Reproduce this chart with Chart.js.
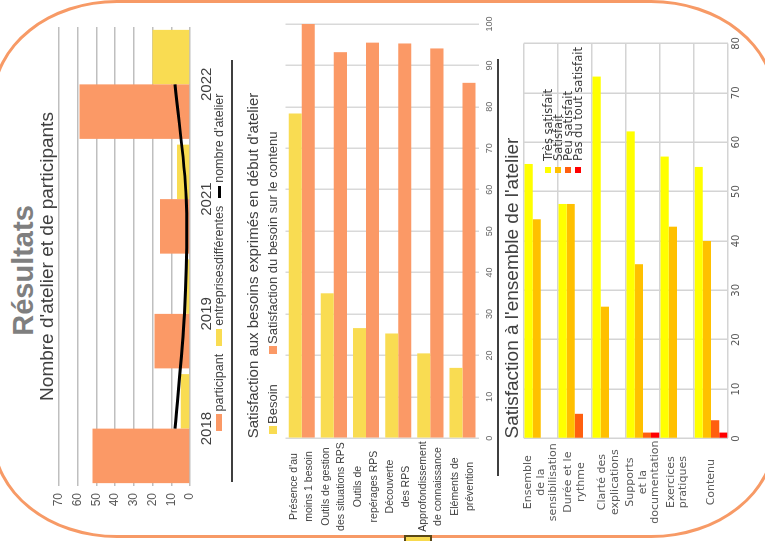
<!DOCTYPE html>
<html lang="fr">
<head>
<meta charset="utf-8">
<title>Résultats</title>
<script src="https://cdn.jsdelivr.net/npm/chart.js@4.4.1/dist/chart.umd.min.js"></script>
<style>
  html, body { margin: 0; padding: 0; background: #fff; }
  body { width: 765px; height: 541px; position: relative; overflow: hidden; font-family: 'Liberation Sans', Arial, sans-serif; }
  #frame { position: absolute; left: -8px; top: 0; width: 784px; height: 538px; box-sizing: border-box; border: 3px solid #F79A66; border-radius: 125px / 100px; }
  #tab { position: absolute; left: 404px; top: 535px; width: 28px; height: 14px; box-sizing: border-box; border: 2px solid #5A4816; background: #F8DA4E; }
  /* the slide is laid out upright, then turned a quarter to the left */
  #slide { position: absolute; left: 0; top: 0; width: 541px; height: 765px; transform-origin: 0 0; transform: translate(0, 541px) rotate(-90deg); }
  #slide canvas, #slide div, #slide span { position: absolute; }
  #bigTitle { left: 0; top: 6px; width: 541px; text-align: center; font: bold 29px/34px 'Liberation Sans', Arial, sans-serif; color: #7F7F7F; }
  .sep { height: 2px; background: #3F3F3F; }
  .leg span { white-space: nowrap; color: #404040; }
  #leg1 { left: 16px; top: 212px; width: 525px; height: 14px; display: flex; justify-content: center; align-items: center; gap: 8px; font: 12.5px/14px 'Liberation Sans', Arial, sans-serif; color: #404040; }
  #leg1 span { position: static; }
  #leg1 .item { display: flex; align-items: center; gap: 3px; white-space: nowrap; }
  #leg1 .key { display: inline-block; width: 17px; height: 6px; }
  #leg1 .key.line { width: 12px; height: 3px; }
</style>
</head>
<body>
<div id="frame"></div>
<div id="slide">
  <div id="bigTitle">Résultats</div>
  <canvas id="c1" width="541" height="206" style="left:0;top:30px"></canvas>
  <div id="leg1"></div>
  <div class="sep" style="left:59px;top:231px;width:422px"></div>
  <canvas id="c2" width="541" height="261" style="left:0;top:236px"></canvas>
  <div id="leg2" class="leg" style="left:0;top:0"></div>
  <div class="sep" style="left:65px;top:497px;width:417px"></div>
  <canvas id="c3" width="541" height="267" style="left:0;top:498px"></canvas>
  <div id="leg3" class="leg" style="left:0;top:0"></div>
</div>
<div id="tab"></div>

<script>
// chart 1 : ateliers et participants
const years = ['2018', '2019', '2021', '2022']
const participants = [52, 19, 16, 59]
const entreprises = [5, 2, 7, 20]
const ateliers = [8, 3, 2, 8]

// chart 2 : besoins
const besoinLabels = [
  ["Présence d'au", 'moins 1 besoin'],
  ['Outils de gestion', 'des situations RPS'],
  ['Outils de', 'repérages RPS'],
  ['Découverte', 'des RPS'],
  ['Approfondissement', 'de connaissance'],
  ['Eléments de', 'prévention']
]
const besoin = [78.4, 35, 26.6, 25.3, 20.5, 17]
const satisfactionBesoin = [100, 93.2, 95.5, 95.3, 94.1, 85.8]

// chart 3 : satisfaction
const atelierLabels = [
  ['Ensemble', 'de la', 'sensibilisation'],
  ['Durée et le', 'rythme'],
  ['Clarté des', 'explications'],
  ['Supports', 'et la', 'documentation'],
  ['Exercices', 'pratiques'],
  ['Contenu']
]
const tresSatisfait = [55.6, 47.5, 73.3, 62.2, 57.1, 55]
const satisfait = [44.4, 47.5, 26.7, 35.3, 42.9, 40]
const peuSatisfait = [0, 5, 0, 1.2, 0, 3.7]
const pasSatisfait = [0, 0, 0, 1.2, 0, 1.2]

const fontMain = "'Liberation Sans', Arial, sans-serif"
const fontWide = "'DejaVu Sans', Verdana, sans-serif"

Chart.defaults.font.family = fontMain
Chart.defaults.animation = false
Chart.defaults.plugins.tooltip.enabled = false

let orange = '#FB9966'
let yellow = '#F9DC52'

let chart1 = new Chart(document.getElementById('c1'), {
  type: 'bar',
  data: {
    labels: years,
    datasets: [{
      label: 'participant',
      data: participants,
      backgroundColor: orange,
      categoryPercentage: 0.95,
      barPercentage: 1
    },
    {
      label: 'entreprisesdifférentes',
      data: entreprises,
      backgroundColor: yellow,
      categoryPercentage: 0.95,
      barPercentage: 1
    },
    {
      type: 'line',
      label: "nombre d'atelier",
      data: ateliers,
      borderColor: '#000',
      backgroundColor: '#000',
      borderWidth: 3,
      pointRadius: 0,
      tension: 0.35,
      order: -1
    }]
  },
  options: {
    responsive: false,
    layout: { padding: { left: 0, right: 27, top: 0, bottom: 1 } },
    plugins: {
      legend: { display: false },
      title: {
        display: true,
        text: "Nombre d'atelier et de participants",
        fullSize: false,
        color: '#404040',
        font: { size: 19, weight: 'normal' },
        padding: { top: 6, bottom: 0 }
      }
    },
    scales: {
      x: {
        grid: { display: false, drawTicks: false },
        border: { display: false },
        ticks: { autoSkip: false, maxRotation: 0, color: '#404040', font: { size: 15 }, padding: 8 },
        afterFit: (s) => { s.height = 45 }
      },
      y: {
        min: 0,
        max: 70,
        ticks: { stepSize: 10, color: '#595959', font: { size: 12 }, padding: 7 },
        grid: { color: '#BFBFBF', lineWidth: 1.5, drawTicks: false },
        border: { display: false },
        afterFit: (s) => { s.width = 55 }
      }
    }
  }
})

let chart2 = new Chart(document.getElementById('c2'), {
  type: 'bar',
  data: {
    labels: besoinLabels,
    datasets: [{
      label: 'Besoin',
      data: besoin,
      backgroundColor: yellow,
      categoryPercentage: 0.81,
      barPercentage: 1
    },
    {
      label: 'Satisfaction du besoin sur le contenu',
      data: satisfactionBesoin,
      backgroundColor: orange,
      categoryPercentage: 0.81,
      barPercentage: 1
    }]
  },
  options: {
    responsive: false,
    indexAxis: 'y',
    layout: { padding: { left: 0, right: 24, top: 0, bottom: 0 } },
    plugins: {
      legend: { display: false },
      title: {
        display: true,
        text: "Satisfaction aux besoins exprimés en début d'atelier",
        fullSize: false,
        align: 'start',
        color: '#404040',
        font: { size: 15, weight: 'normal' },
        padding: { top: 9, bottom: 22.6 }
      }
    },
    scales: {
      x: {
        min: 0,
        max: 100,
        ticks: { stepSize: 10, color: '#666', font: { size: 9 }, padding: 6 },
        grid: { color: '#D9D9D9', lineWidth: 1.5, drawTicks: false },
        border: { display: false },
        afterFit: (s) => { s.height = 18.4 }
      },
      y: {
        grid: { display: false, drawTicks: false },
        border: { display: false },
        ticks: { autoSkip: false, color: '#404040', font: { size: 10.5, lineHeight: 1.45 }, crossAlign: 'center', padding: 3 },
        afterFit: (s) => { s.width = 102.7 }
      }
    }
  }
})

let chart3 = new Chart(document.getElementById('c3'), {
  type: 'bar',
  data: {
    labels: atelierLabels,
    datasets: [
      { label: 'Très satisfait', data: tresSatisfait, backgroundColor: '#FFFF00' },
      { label: 'Satisfait', data: satisfait, backgroundColor: '#FFC000' },
      { label: 'Peu satisfait', data: peuSatisfait, backgroundColor: '#FF5F0F' },
      { label: 'Pas du tout satisfait', data: pasSatisfait, backgroundColor: '#FF0000' }
    ]
  },
  options: {
    responsive: false,
    indexAxis: 'y',
    datasets: { bar: { categoryPercentage: 0.96, barPercentage: 1 } },
    layout: { padding: { left: 0, right: 43.5, top: 0, bottom: 0 } },
    plugins: {
      legend: { display: false },
      title: {
        display: true,
        text: "Satisfaction à l'ensemble de l'atelier",
        fullSize: false,
        align: 'start',
        color: '#404040',
        font: { size: 19, weight: 'normal' },
        padding: { top: 3, bottom: 0 }
      }
    },
    scales: {
      x: {
        min: 0,
        max: 80,
        ticks: { stepSize: 10, color: '#595959', font: { family: fontWide, size: 10 }, padding: 2.5 },
        grid: { color: '#D4D4D4', lineWidth: 1.5, drawTicks: false },
        border: { display: false },
        afterFit: (s) => { s.height = 37 }
      },
      y: {
        grid: { color: '#D4D4D4', lineWidth: 1.5, drawTicks: false },
        border: { display: false },
        ticks: { autoSkip: false, color: '#595959', font: { family: fontWide, size: 11, lineHeight: 1.14 }, crossAlign: 'center', padding: 2 },
        afterFit: (s) => { s.width = 102.5 }
      }
    }
  }
})

// legend of chart 1, centred under the plot like the original
let leg1 = document.getElementById('leg1')
chart1.data.datasets.forEach(ds => {
  let item = document.createElement('span')
  item.className = 'item'
  let key = document.createElement('span')
  key.className = ds.type === 'line' ? 'key line' : 'key'
  key.style.background = ds.type === 'line' ? ds.borderColor : ds.backgroundColor
  let tx = document.createElement('span')
  tx.textContent = ds.label
  item.appendChild(key)
  item.appendChild(tx)
  leg1.appendChild(item)
})

// html legends, placed where the original slide has them
function makeLegend(id, chart, items) {
  let box = document.getElementById(id)
  chart.data.datasets.forEach((ds, i) => {
    let it = items[i]
    let sq = document.createElement('span')
    sq.style.cssText = `left:${it.bx}px;top:${it.by}px;width:${it.s}px;height:${it.s}px;background:${ds.backgroundColor}`
    let tx = document.createElement('span')
    tx.textContent = ds.label
    tx.style.cssText = `left:${it.tx}px;top:${it.ty}px;font:${it.font};line-height:${it.lh}px`
    box.appendChild(sq)
    box.appendChild(tx)
  })
}

makeLegend('leg2', chart2, [
  { bx: 107, by: 269, s: 8, tx: 117, ty: 265, lh: 16, font: '13px ' + fontMain },
  { bx: 187, by: 269, s: 8, tx: 197, ty: 265, lh: 16, font: '13px ' + fontMain }
])

makeLegend('leg3', chart3, [
  { bx: 368, by: 544.5, s: 6, tx: 380, ty: 542.5, lh: 10, font: '11.5px ' + fontWide },
  { bx: 368, by: 554.5, s: 6, tx: 380, ty: 552.5, lh: 10, font: '11.5px ' + fontWide },
  { bx: 368, by: 564.5, s: 6, tx: 380, ty: 562.5, lh: 10, font: '11.5px ' + fontWide },
  { bx: 368, by: 574.5, s: 6, tx: 380, ty: 572.5, lh: 10, font: '11.5px ' + fontWide }
])
</script>
</body>
</html>
